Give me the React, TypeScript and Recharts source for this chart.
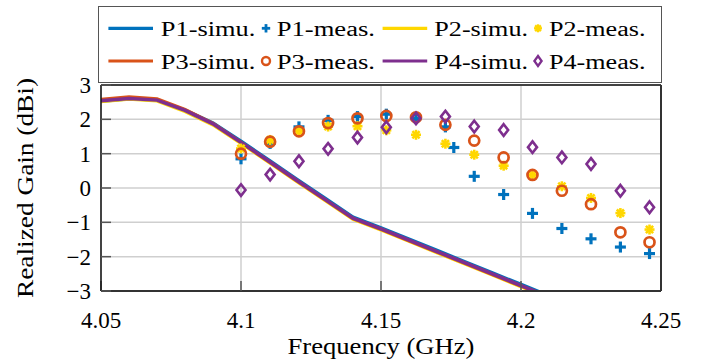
import React from "react";
import {
  ComposedChart,
  Line,
  Scatter,
  XAxis,
  YAxis,
  CartesianGrid,
  Legend,
  Label,
} from "recharts";

// simulated gain curves (GHz / dBi)
const simuFreq = [4.05, 4.06, 4.07, 4.08, 4.09, 4.1, 4.11, 4.12, 4.13, 4.14, 4.15, 4.16, 4.17, 4.18, 4.19, 4.2, 4.21];
const p1Simu = [2.53, 2.6, 2.56, 2.27, 1.89, 1.36, 0.81, 0.25, -0.3, -0.85, -1.16, -1.49, -1.82, -2.15, -2.48, -2.81, -3.14];
const p2Simu = [2.52, 2.59, 2.54, 2.23, 1.84, 1.3, 0.75, 0.19, -0.36, -0.91, -1.22, -1.55, -1.88, -2.21, -2.54, -2.87, -3.2];
const p3Simu = [2.58, 2.65, 2.59, 2.28, 1.88, 1.33, 0.77, 0.21, -0.34, -0.89, -1.2, -1.53, -1.86, -2.19, -2.52, -2.85, -3.18];
const p4Simu = [2.54, 2.61, 2.56, 2.26, 1.87, 1.33, 0.78, 0.22, -0.33, -0.88, -1.19, -1.52, -1.85, -2.18, -2.51, -2.84, -3.17];

// measured points
const measFreq = [4.1, 4.1104, 4.1207, 4.1311, 4.1416, 4.1519, 4.1625, 4.173, 4.1833, 4.1938, 4.2041, 4.2146, 4.225, 4.2355, 4.2459];
const p1MeasFreq = [4.1, 4.1104, 4.1207, 4.1311, 4.1416, 4.1519, 4.1625, 4.173, 4.176, 4.1833, 4.1938, 4.2041, 4.2146, 4.225, 4.2355, 4.2459];
const p1Meas = [0.85, 1.3, 1.78, 1.97, 2.08, 2.15, 2.02, 1.78, 1.18, 0.34, -0.19, -0.74, -1.18, -1.48, -1.72, -1.91];
const p2Meas = [1.15, 1.4, 1.65, 1.79, 1.8, 1.68, 1.55, 1.29, 0.97, 0.65, 0.38, 0.05, -0.29, -0.73, -1.21];
const p3Meas = [1.0, 1.35, 1.65, 1.89, 2.03, 2.1, 2.06, 1.84, 1.38, 0.89, 0.38, -0.08, -0.47, -1.29, -1.58];
const p4Meas = [-0.06, 0.39, 0.78, 1.14, 1.47, 1.77, 2.03, 2.08, 1.79, 1.69, 1.19, 0.89, 0.7, -0.08, -0.56];

const xTicks = [4.05, 4.1, 4.15, 4.2, 4.25];
const yTicks = [-3, -2, -1, 0, 1, 2, 3];

const BLUE = "#0072BD";
const YELLOW = "#FFD700";
const ORANGE = "#D95319";
const PURPLE = "#7E2F8E";
const FONT = "Liberation Serif, DejaVu Serif, serif";

const toPoints = (xs: number[], ys: number[]) => xs.map((f, i) => ({ f, g: ys[i] }));

// marker shapes
const plus = (color: string, s = 5.5, w = 3.2) => (p: any) =>
  p.cx == null ? <g /> : (
    <g stroke={color} strokeWidth={w}>
      <line x1={p.cx - s} y1={p.cy} x2={p.cx + s} y2={p.cy} />
      <line x1={p.cx} y1={p.cy - s} x2={p.cx} y2={p.cy + s} />
    </g>
  );

const star = (color: string, s = 5, w = 2.6) => (p: any) => {
  if (p.cx == null) return <g />;
  const d = s * 0.72;
  return (
    <g stroke={color} strokeWidth={w}>
      <line x1={p.cx - s} y1={p.cy} x2={p.cx + s} y2={p.cy} />
      <line x1={p.cx} y1={p.cy - s} x2={p.cx} y2={p.cy + s} />
      <line x1={p.cx - d} y1={p.cy - d} x2={p.cx + d} y2={p.cy + d} />
      <line x1={p.cx - d} y1={p.cy + d} x2={p.cx + d} y2={p.cy - d} />
    </g>
  );
};

const ring = (color: string, r = 5, w = 2.7) => (p: any) =>
  p.cx == null ? <g /> : <circle cx={p.cx} cy={p.cy} r={r} fill="none" stroke={color} strokeWidth={w} />;

const diamond = (color: string, hw = 4.5, hh = 5.8, w = 2.6) => (p: any) =>
  p.cx == null ? (
    <g />
  ) : (
    <path
      d={`M${p.cx},${p.cy - hh}L${p.cx + hw},${p.cy}L${p.cx},${p.cy + hh}L${p.cx - hw},${p.cy}Z`}
      fill="none"
      stroke={color}
      strokeWidth={w}
    />
  );

const legendRows = [
  [
    { name: "P1-simu.", kind: "line", color: BLUE },
    { name: "P1-meas.", kind: "plus", color: BLUE },
    { name: "P2-simu.", kind: "line", color: YELLOW },
    { name: "P2-meas.", kind: "star", color: YELLOW },
  ],
  [
    { name: "P3-simu.", kind: "line", color: ORANGE },
    { name: "P3-meas.", kind: "ring", color: ORANGE },
    { name: "P4-simu.", kind: "line", color: PURPLE },
    { name: "P4-meas.", kind: "diamond", color: PURPLE },
  ],
];

// column layout of the legend box
const lineCols = [10.4, 284.6];
const markCols = [168, 440];
const textCols = [
  { x: 62.8, w: 94.5 },
  { x: 178.7, w: 98.3 },
  { x: 336.3, w: 93.7 },
  { x: 451, w: 96.5 },
];

const renderLegend = () => {
  const rowY = [22.3, 55];
  const rowBase = [30, 62.5];
  return (
    <svg width={564} height={77} style={{ display: "block" }}>
      <rect x={0.5} y={0.5} width={563} height={76} fill="#fff" stroke="#555" strokeWidth={1} />
      {legendRows.map((row, r) =>
        row.map((item, c) => {
          const pair = Math.floor(c / 2);
          let mark: React.ReactNode = null;
          if (item.kind === "line") {
            const x0 = lineCols[pair];
            mark = <line x1={x0} y1={rowY[r]} x2={x0 + 44.6} y2={rowY[r]} stroke={item.color} strokeWidth={3.2} />;
          } else {
            const pt = { cx: markCols[pair], cy: rowY[r] };
            if (item.kind === "plus") mark = plus(item.color, 4.2, 2.8)(pt);
            if (item.kind === "star") mark = star(item.color, 4, 2.3)(pt);
            if (item.kind === "ring") mark = ring(item.color, 4, 2.4)(pt);
            if (item.kind === "diamond") mark = diamond(item.color, 3.6, 5, 2.3)(pt);
          }
          const t = textCols[c];
          return (
            <g key={`${r}-${c}`}>
              {mark}
              <text
                x={t.x}
                y={rowBase[r]}
                style={{ fontFamily: FONT, fontSize: 20 }}
                fill="#000"
                textLength={t.w}
                lengthAdjust="spacingAndGlyphs"
              >
                {item.name}
              </text>
            </g>
          );
        })
      )}
    </svg>
  );
};

const XLabel = (props: any) => {
  const { viewBox } = props;
  return (
    <text
      x={viewBox.x + viewBox.width / 2}
      y={354}
      textAnchor="middle"
      style={{ fontFamily: FONT, fontSize: 24 }}
      fill="#000"
      textLength={187}
      lengthAdjust="spacingAndGlyphs"
    >
      Frequency (GHz)
    </text>
  );
};

const YLabel = (props: any) => {
  const { viewBox } = props;
  const cy = viewBox.y + viewBox.height / 2;
  return (
    <text
      transform={`translate(33, ${cy}) rotate(-90)`}
      x={0}
      y={0}
      textAnchor="middle"
      style={{ fontFamily: FONT, fontSize: 24 }}
      fill="#000"
      textLength={220}
      lengthAdjust="spacingAndGlyphs"
    >
      Realized Gain (dBi)
    </text>
  );
};

const fmtMinus = (v: number) => String(v).replace("-", "\u2212");

export default function App() {
  const tickStyle = { fill: "#000", fontSize: 23, fontFamily: FONT, style: { fontFamily: FONT } };
  return (
    <div style={{ position: "absolute", left: 0, top: 0, background: "#fff", fontFamily: FONT }}>
      <ComposedChart width={701} height={362} margin={{ top: 84, right: 39, bottom: 0, left: 0 }}>
        <CartesianGrid stroke="#cfcfcf" strokeWidth={1.5} />
        <XAxis
          dataKey="f"
          type="number"
          domain={[4.05, 4.25]}
          ticks={xTicks}
          allowDataOverflow
          height={71}
          tickSize={-10}
          tickMargin={31}
          tick={tickStyle}
          tickLine={{ stroke: "#555", strokeWidth: 1.5 }}
          axisLine={{ stroke: "#333", strokeWidth: 2 }}
          tickFormatter={(v: number) => String(v)}
        >
          <Label content={<XLabel />} />
        </XAxis>
        <XAxis
          xAxisId="top"
          orientation="top"
          type="number"
          domain={[4.05, 4.25]}
          ticks={xTicks}
          allowDataOverflow
          height={1}
          tickSize={-10}
          tick={false}
          tickLine={{ stroke: "#555", strokeWidth: 1.5 }}
          axisLine={{ stroke: "#111", strokeWidth: 1.5 }}
        />
        <YAxis
          type="number"
          domain={[-3, 3]}
          ticks={yTicks}
          allowDataOverflow
          width={101}
          tickSize={-10}
          tickMargin={20}
          tick={tickStyle}
          tickLine={{ stroke: "#555", strokeWidth: 1.5 }}
          axisLine={{ stroke: "#111", strokeWidth: 1.5 }}
          tickFormatter={fmtMinus}
        >
          <Label content={<YLabel />} />
        </YAxis>
        <YAxis
          yAxisId="right"
          orientation="right"
          type="number"
          domain={[-3, 3]}
          ticks={yTicks}
          allowDataOverflow
          width={1}
          tickSize={-10}
          tick={false}
          tickLine={{ stroke: "#555", strokeWidth: 1.5 }}
          axisLine={{ stroke: "#333", strokeWidth: 2 }}
        />
        <Legend
          verticalAlign="middle"
          align="center"
          layout="horizontal"
          wrapperStyle={{ top: 6, left: 98, width: 564, height: 77 }}
          content={renderLegend}
        />

        <Line data={toPoints(simuFreq, p1Simu)} dataKey="g" name="P1-simu." stroke={BLUE} strokeWidth={3.5} dot={false} isAnimationActive={false} />
        <Scatter data={toPoints(p1MeasFreq, p1Meas)} dataKey="g" name="P1-meas." fill={BLUE} shape={plus(BLUE)} isAnimationActive={false} />
        <Line data={toPoints(simuFreq, p2Simu)} dataKey="g" name="P2-simu." stroke={YELLOW} strokeWidth={3.5} dot={false} isAnimationActive={false} />
        <Scatter data={toPoints(measFreq, p2Meas)} dataKey="g" name="P2-meas." fill={YELLOW} shape={star(YELLOW)} isAnimationActive={false} />
        <Line data={toPoints(simuFreq, p3Simu)} dataKey="g" name="P3-simu." stroke={ORANGE} strokeWidth={3.5} dot={false} isAnimationActive={false} />
        <Scatter data={toPoints(measFreq, p3Meas)} dataKey="g" name="P3-meas." fill={ORANGE} shape={ring(ORANGE)} isAnimationActive={false} />
        <Line data={toPoints(simuFreq, p4Simu)} dataKey="g" name="P4-simu." stroke={PURPLE} strokeWidth={3.5} dot={false} isAnimationActive={false} />
        <Scatter data={toPoints(measFreq, p4Meas)} dataKey="g" name="P4-meas." fill={PURPLE} shape={diamond(PURPLE)} isAnimationActive={false} />
      </ComposedChart>
    </div>
  );
}
